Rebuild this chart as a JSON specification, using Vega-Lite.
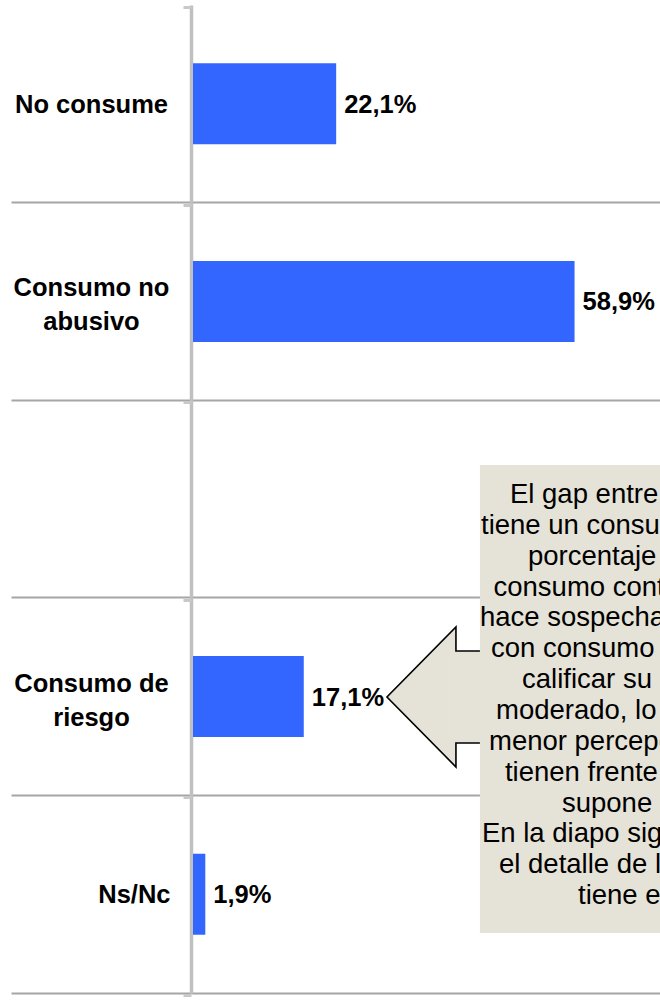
{
  "$schema": "https://vega.github.io/schema/vega-lite/v6.json",
  "autosize": {"type": "none"},
  "padding": {"left": 191, "top": 5, "right": 0, "bottom": 7},
  "width": 469,
  "height": 988,
  "background": "#ffffff",
  "config": {
    "view": {"stroke": null},
    "font": "Liberation Sans",
    "locale": {"number": {"decimal": ",", "thousands": ".", "grouping": [3], "currency": ["", " €"]}}
  },
  "layer": [
    {
      "data": {"values": [
        {"cat": "No consume", "pct": 0.221},
        {"cat": "Consumo no|abusivo", "pct": 0.589},
        {"cat": "Consumo de|riesgo", "pct": 0.171},
        {"cat": "Ns/Nc", "pct": 0.019}
      ]},
      "encoding": {
        "y": {
          "field": "cat", "type": "nominal", "sort": null,
          "scale": {"domain": ["No consume", "Consumo no|abusivo", " ", "Consumo de|riesgo", "Ns/Nc"], "paddingInner": 0, "paddingOuter": 0},
          "axis": {
            "title": null,
            "orient": "left",
            "bandPosition": 1,
            "grid": true, "gridColor": "#a6a6a6", "gridWidth": 2,
            "ticks": true, "tickSize": 180, "tickColor": "#a6a6a6", "tickWidth": 2,
            "domain": true, "domainColor": "#c0c0c0", "domainWidth": 3.5,
            "labelExpr": "split(datum.label, '|')",
            "labelFont": "Liberation Sans", "labelFontSize": 25.5, "labelFontWeight": "bold", "labelColor": "#000000",
            "labelLineHeight": 34,
            "labelAlign": {"condition": {"test": "datum.value === 'Ns/Nc'", "value": "right"}, "value": "center"},
            "labelPadding": {"condition": {"test": "datum.value === 'Ns/Nc'", "value": -159}, "value": -80},
            "labelOffset": {"condition": {"test": "indexof(datum.value, '|') >= 0", "value": -13}, "value": 1},
            "labelLimit": 400,
            "labelBaseline": "middle"
          }
        },
        "x": {"field": "pct", "type": "quantitative", "scale": {"domain": [0, 0.724], "nice": false, "zero": true}, "axis": null}
      },
      "layer": [
        {"mark": {"type": "bar", "color": "#3366ff", "height": {"band": 0.41}, "xOffset": 2, "x2Offset": 2}},
        {"mark": {"type": "text", "align": "left", "baseline": "middle", "dx": 10, "dy": 1, "fontSize": 25.5, "fontWeight": "bold", "color": "#000000", "font": "Liberation Sans"},
         "encoding": {"text": {"field": "pct", "type": "quantitative", "format": ".1%"}}}
      ]
    },
    {
      "encoding": {
        "x": {"field": "x", "type": "quantitative", "scale": {"domain": [0, 0.724], "nice": false}},
        "y": {"field": "y", "type": "quantitative", "scale": {"domain": [0, 5], "reverse": true, "nice": false, "zero": false},
              "axis": {"orient": "left", "offset": 0, "values": [0, 1, 2, 3, 4, 5], "labels": false, "domain": false, "grid": false, "title": null,
                       "ticks": true, "tickSize": 8, "tickColor": "#c8c8c8", "tickWidth": 3, "tickOffset": 2}}
      },
      "layer": [
        {
          "data": {"values": [
            {"x": 0.3025, "y": 3.502, "y2": 3.502},
            {"x": 0.4095, "y": 3.148, "y2": 3.856}
          ]},
          "mark": {"type": "area", "fill": "#e5e2d7", "fillOpacity": 1, "interpolate": "linear", "orient": "vertical"},
          "encoding": {"y2": {"field": "y2"}}
        },
        {
          "data": {"values": [{"x": 0.408, "x2": 0.46, "y": 3.269, "y2": 3.735}]},
          "mark": {"type": "rect", "fill": "#e5e2d7"},
          "encoding": {"x2": {"field": "x2"}, "y2": {"field": "y2"}}
        },
        {
          "data": {"values": [
            {"i": 1, "x": 0.452, "y": 3.269},
            {"i": 2, "x": 0.409, "y": 3.269},
            {"i": 3, "x": 0.409, "y": 3.148},
            {"i": 4, "x": 0.3025, "y": 3.502},
            {"i": 5, "x": 0.409, "y": 3.856},
            {"i": 6, "x": 0.409, "y": 3.735},
            {"i": 7, "x": 0.452, "y": 3.735}
          ]},
          "mark": {"type": "line", "color": "#000000", "strokeWidth": 1.6, "interpolate": "linear", "strokeJoin": "miter"},
          "encoding": {"order": {"field": "i", "type": "quantitative"}}
        },
        {
          "data": {"values": [{"x": 0.446, "x2": 0.8, "y": 2.328, "y2": 4.696}]},
          "mark": {"type": "rect", "fill": "#e5e2d7"},
          "encoding": {"x2": {"field": "x2"}, "y2": {"field": "y2"}}
        },
        {
          "data": {"values": [
            {"x": 0.4924, "y": 2.480, "t": "El gap entre los que dicen que"},
            {"x": 0.4477, "y": 2.636, "t": "tiene un consumo moderado y el"},
            {"x": 0.5202, "y": 2.792, "t": "porcentaje real de personas con"},
            {"x": 0.4670, "y": 2.948, "t": "consumo controlado por el AUDIT"},
            {"x": 0.4461, "y": 3.104, "t": "hace sospechar que muchas personas"},
            {"x": 0.4631, "y": 3.260, "t": "con consumo de riesgo tienden a"},
            {"x": 0.5110, "y": 3.416, "t": "calificar su consumo como"},
            {"x": 0.4708, "y": 3.572, "t": "moderado, lo que refleja la"},
            {"x": 0.4600, "y": 3.729, "t": "menor percepción del riesgo que"},
            {"x": 0.4847, "y": 3.885, "t": "tienen frente a lo que realmente"},
            {"x": 0.5727, "y": 4.041, "t": "supone su consumo."},
            {"x": 0.4492, "y": 4.197, "t": "En la diapo siguiente se muestra"},
            {"x": 0.4755, "y": 4.353, "t": "el detalle de lo que cada grupo"},
            {"x": 0.5974, "y": 4.509, "t": "tiene en cuenta."}
          ]},
          "mark": {"type": "text", "align": "left", "baseline": "middle", "fontSize": 27.5, "color": "#000000", "font": "Liberation Sans"},
          "encoding": {"text": {"field": "t", "type": "nominal"}}
        }
      ]
    }
  ],
  "resolve": {"scale": {"y": "independent"}}
}
